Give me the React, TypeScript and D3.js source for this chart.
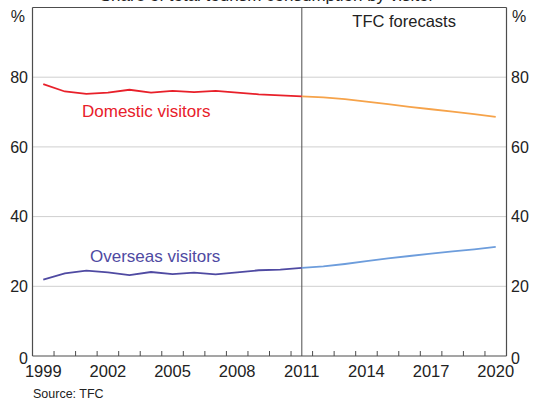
import React from "react";
import * as d3 from "d3";

const actualYears = [1999, 2000, 2001, 2002, 2003, 2004, 2005, 2006, 2007, 2008, 2009, 2010, 2011];
const forecastYears = [2011, 2012, 2013, 2014, 2015, 2016, 2017, 2018, 2019, 2020];
const domesticActual = [78.0, 75.9, 75.2, 75.6, 76.4, 75.6, 76.1, 75.7, 76.1, 75.6, 75.1, 74.8, 74.5];
const domesticForecast = [74.5, 74.2, 73.7, 73.0, 72.3, 71.5, 70.8, 70.1, 69.4, 68.6];
const overseasActual = [21.9, 23.7, 24.5, 24.0, 23.2, 24.1, 23.5, 23.9, 23.4, 24.0, 24.6, 24.8, 25.3];
const overseasForecast = [25.3, 25.7, 26.4, 27.2, 28.0, 28.7, 29.4, 30.0, 30.6, 31.3];
const yTicks = [0, 20, 40, 60, 80];
const xLabels = [1999, 2002, 2005, 2008, 2011, 2014, 2017, 2020];
const forecastStart = 2011;

const W = 541;
const H = 400;
const left = 32.5;
const right = 506.5;
const top = 7.5;
const bottom = 356;
const font = "'Liberation Sans', Arial, Helvetica, sans-serif";

export default function App() {
  const x = d3.scaleLinear().domain([1998.5, 2020.5]).range([left, right]);
  const y = d3.scaleLinear().domain([0, 100]).range([bottom, top]);
  const line = (xs: number[], vs: number[]) =>
    d3.line<number>().x((_, i) => x(xs[i])).y((v) => y(v))(vs) || "";
  const axisColor = "#4d4d4d";
  const boundaries = d3.range(1998.5, 2021, 1);

  return (
    <svg width={W} height={H} style={{ position: "absolute", left: 0, top: 0, background: "#fff" }} fontFamily={font}>
      <rect x={0} y={0} width={W} height={H} fill="#fff" />
      <text x={267} y={0.5} fontSize={17} textAnchor="middle" fill="#222">
        Share of total tourism consumption by visitor
      </text>
      {yTicks.filter((t) => t > 0).map((t) => (
        <line key={t} x1={left} x2={right} y1={y(t)} y2={y(t)} stroke="#cfcfcf" strokeWidth={1} />
      ))}
      <line x1={x(forecastStart)} x2={x(forecastStart)} y1={top} y2={bottom} stroke={axisColor} strokeWidth={1} />
      <path d={line(actualYears, domesticActual)} fill="none" stroke="#e8202a" strokeWidth={1.8} />
      <path d={line(forecastYears, domesticForecast)} fill="none" stroke="#f6a34a" strokeWidth={1.8} />
      <path d={line(actualYears, overseasActual)} fill="none" stroke="#4f4aa2" strokeWidth={1.8} />
      <path d={line(forecastYears, overseasForecast)} fill="none" stroke="#6d9ddc" strokeWidth={1.8} />
      <line x1={left} x2={right} y1={top} y2={top} stroke={axisColor} strokeWidth={1.2} />
      <line x1={left} x2={left} y1={top} y2={bottom} stroke={axisColor} strokeWidth={1.2} />
      <line x1={right} x2={right} y1={top} y2={bottom} stroke={axisColor} strokeWidth={1.2} />
      <line x1={left} x2={right} y1={bottom} y2={bottom} stroke={axisColor} strokeWidth={1.2} />
      {boundaries.map((b) => (
        <line key={b} x1={x(b)} x2={x(b)} y1={bottom} y2={bottom - 5} stroke={axisColor} strokeWidth={1} />
      ))}
      {yTicks.map((t) => (
        <text key={"l" + t} x={28} y={t === 0 ? y(t) + 2 : y(t)} dy="0.36em" fontSize={16} textAnchor="end" fill="#222">
          {t}
        </text>
      ))}
      {yTicks.map((t) => (
        <text key={"r" + t} x={511} y={t === 0 ? y(t) + 2 : y(t)} dy="0.36em" fontSize={16} textAnchor="start" fill="#222">
          {t}
        </text>
      ))}
      <text x={25} y={22} fontSize={16} textAnchor="end" fill="#222">%</text>
      <text x={512} y={22} fontSize={16} textAnchor="start" fill="#222">%</text>
      {xLabels.map((yr) => (
        <text key={yr} x={x(yr)} y={377} fontSize={16.5} textAnchor="middle" fill="#222">
          {yr}
        </text>
      ))}
      <text x={(x(forecastStart) + right) / 2} y={27} fontSize={16.5} textAnchor="middle" fill="#222">
        TFC forecasts
      </text>
      <text x={82} y={117} fontSize={17} fill="#e8202a">Domestic visitors</text>
      <text x={90} y={262} fontSize={17} fill="#4f4aa2">Overseas visitors</text>
      <text x={33} y={398} fontSize={12.5} fill="#222">Source: TFC</text>
    </svg>
  );
}
